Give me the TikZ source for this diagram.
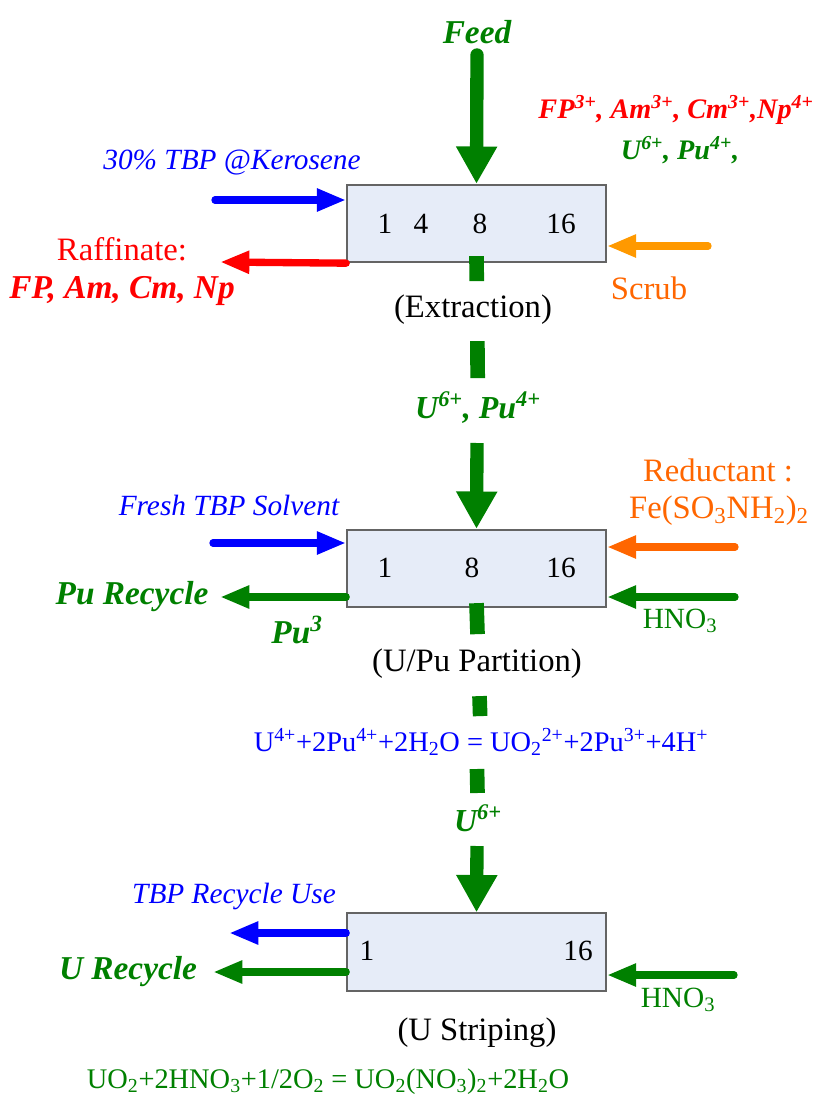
\documentclass[tikz,border=0pt]{standalone}
\usepackage{fontspec}
\setmainfont{Liberation Serif}
\usetikzlibrary{arrows.meta}

\definecolor{pgreen}{RGB}{0,128,0}
\definecolor{pblue}{RGB}{0,0,255}
\definecolor{pred}{RGB}{255,0,0}
\definecolor{scrubor}{RGB}{255,153,0}
\definecolor{redor}{RGB}{255,102,0}
\definecolor{boxfill}{RGB}{230,236,248}
\definecolor{boxline}{RGB}{100,100,100}

\begin{document}
\begin{tikzpicture}[
        x=0.75pt, y=-0.75pt,
        stage/.style={rectangle, draw=boxline, line width=1.5pt, fill=boxfill, minimum width=194pt, minimum height=58pt, inner sep=0pt},
        num/.style={font=\fontsize{22}{24}\selectfont, inner sep=0pt},
        txt/.style={font=\fontsize{24.5}{28}\selectfont, inner sep=0pt, align=center},
        chem/.style={font=\fontsize{21.3}{24}\selectfont, inner sep=0pt},
        ion/.style={font=\fontsize{25}{28}\selectfont\bfseries\itshape, inner sep=0pt, text=pgreen},
        smallion/.style={font=\fontsize{21.2}{24}\selectfont\bfseries\itshape, inner sep=0pt},
        note/.style={font=\fontsize{22}{25}\selectfont\itshape, inner sep=0pt, text=pblue},
        bigarr/.style={-{Triangle[length=28pt,width=29pt]}, line width=10pt, pgreen},
        sidearr/.style={-{Triangle[length=22pt,width=16pt]}, line width=5.5pt, line cap=round},
        dashln/.style={line width=11pt, pgreen},
    ]
        \useasboundingbox (0,0) rectangle (814,1099);

        % Contactor stages
        \node[stage] (ext) at (476.5,223.5) {};
        \node[stage] (part) at (476.5,568.5) {};
        \node[stage] (strip) at (476.5,952) {};

        % Stage numbers
        \node[num] (e1) at (385,224) {1};
        \node[num] (e4) at (421,224) {4};
        \node[num] (e8) at (480,224) {8};
        \node[num] (e16) at (561,224) {16};
        \node[num] (p1) at (385,568) {1};
        \node[num] (p8) at (472,568) {8};
        \node[num] (p16) at (561,568) {16};
        \node[num] (s1n) at (367,951) {1};
        \node[num] (s16) at (578,951) {16};

        % Extraction labels
        \node[ion] (feed) at (477,32) {Feed};
        \node[smallion, text=pred] (ions) at (676,110) {FP\textsuperscript{3+}, Am\textsuperscript{3+}, Cm\textsuperscript{3+},Np\textsuperscript{4+}};
        \node[smallion, text=pgreen] (ions2) at (680,150) {U\textsuperscript{6+}, Pu\textsuperscript{4+},};
        \node[note] (kero) at (232,163) {30\% TBP @Kerosene};
        \node[txt, text=pred] (raf) at (122,249) {Raffinate:};
        \node[ion, text=pred] (rafions) at (122,291) {FP, Am, Cm, Np};
        \node[txt, text=redor] (scrub) at (649,288) {Scrub};
        \node[txt] (extlab) at (473,310) {(Extraction)};

        % Partition labels
        \node[ion, font=\fontsize{24}{27}\selectfont\bfseries\itshape] (upu) at (478,408) {U\textsuperscript{6+}, Pu\textsuperscript{4+}};
        \node[note] (fresh) at (229,505) {Fresh TBP Solvent};
        \node[txt, text=redor] (red) at (718,470) {Reductant :};
        \node[txt, text=redor] (redf) at (719,511) {Fe(SO\textsubscript{3}NH\textsubscript{2})\textsubscript{2}};
        \node[ion] (purec) at (132,597) {Pu Recycle};
        \node[ion] (pu3) at (297,630) {Pu\textsuperscript{3}};
        \node[chem, text=pgreen, font=\fontsize{22}{24}\selectfont] (hno1) at (680,621) {HNO\textsubscript{3}};
        \node[txt] (partlab) at (477,664) {(U/Pu Partition)};
        \node[chem, text=pblue] (eq1) at (481,742) {U\textsuperscript{4+}+2Pu\textsuperscript{4+}+2H\textsubscript{2}O = UO\textsubscript{2}\textsuperscript{2+}+2Pu\textsuperscript{3+}+4H\textsuperscript{+}};

        % Stripping labels
        \node[ion, font=\fontsize{24}{27}\selectfont\bfseries\itshape] (u6) at (478,818) {U\textsuperscript{6+}};
        \node[note] (tbprec) at (234,896) {TBP Recycle Use};
        \node[ion] (urec) at (128,972) {U Recycle};
        \node[chem, text=pgreen, font=\fontsize{22}{24}\selectfont] (hno2) at (678,1000) {HNO\textsubscript{3}};
        \node[txt] (striplab) at (477,1033) {(U Striping)};
        \node[chem, text=pgreen] (eq2) at (328,1082) {UO\textsubscript{2}+2HNO\textsubscript{3}+1/2O\textsubscript{2} = UO\textsubscript{2}(NO\textsubscript{3})\textsubscript{2}+2H\textsubscript{2}O};

        % Free ends of the streams
        \coordinate (feedin) at (477,55);
        \coordinate (solv1) at (215,200);
        \coordinate (rafout) at (220,262);
        \coordinate (scrin) at (708,246);
        \coordinate (solv2) at (213,543);
        \coordinate (redin) at (735,547);
        \coordinate (acid1) at (735,597);
        \coordinate (puout) at (220,597);
        \coordinate (tbpout) at (229,933);
        \coordinate (uout) at (213,972);
        \coordinate (acid2) at (734,975);
        \coordinate (a1) at (477,443);
        \coordinate (d3) at (477,769);
        \coordinate (a2) at (477,846);

        % Extraction streams
        \draw[bigarr, line cap=round] (feedin) -- (ext.north);
        \draw[sidearr, pblue] (solv1) -- (solv1 -| ext.west);
        \draw[sidearr, pred] (ext.south west) -- (rafout);
        \draw[sidearr, scrubor] (scrin) -- (scrin -| ext.east);

        % Partition streams
        \draw[sidearr, pblue] (solv2) -- (solv2 -| part.west);
        \draw[sidearr, redor] (redin) -- (redin -| part.east);
        \draw[sidearr, pgreen] (acid1) -- (acid1 -| part.east);
        \draw[sidearr, pgreen] (puout -| part.west) -- (puout);

        % Stripping streams
        \draw[sidearr, pblue] (tbpout -| strip.west) -- (tbpout);
        \draw[sidearr, pgreen] (uout -| strip.west) -- (uout);
        \draw[sidearr, pgreen] (acid2) -- (acid2 -| strip.east);

        % Organic phase down the line
        \draw[dashln, dash pattern=on 18.75pt off 45pt on 27.75pt off 200pt] ([yshift=5.25pt]ext.south) -- (upu);
        \draw[bigarr] (a1) -- (part.north);
        \draw[dashln, dash pattern=on 23.25pt off 46.5pt on 15pt off 200pt] ([yshift=3.75pt]part.south) -- (eq1);
        \draw[dashln, dash pattern=on 18pt off 200pt] (d3) -- (u6);
        \draw[bigarr] (a2) -- (strip.north);
    \end{tikzpicture}
\end{document}
